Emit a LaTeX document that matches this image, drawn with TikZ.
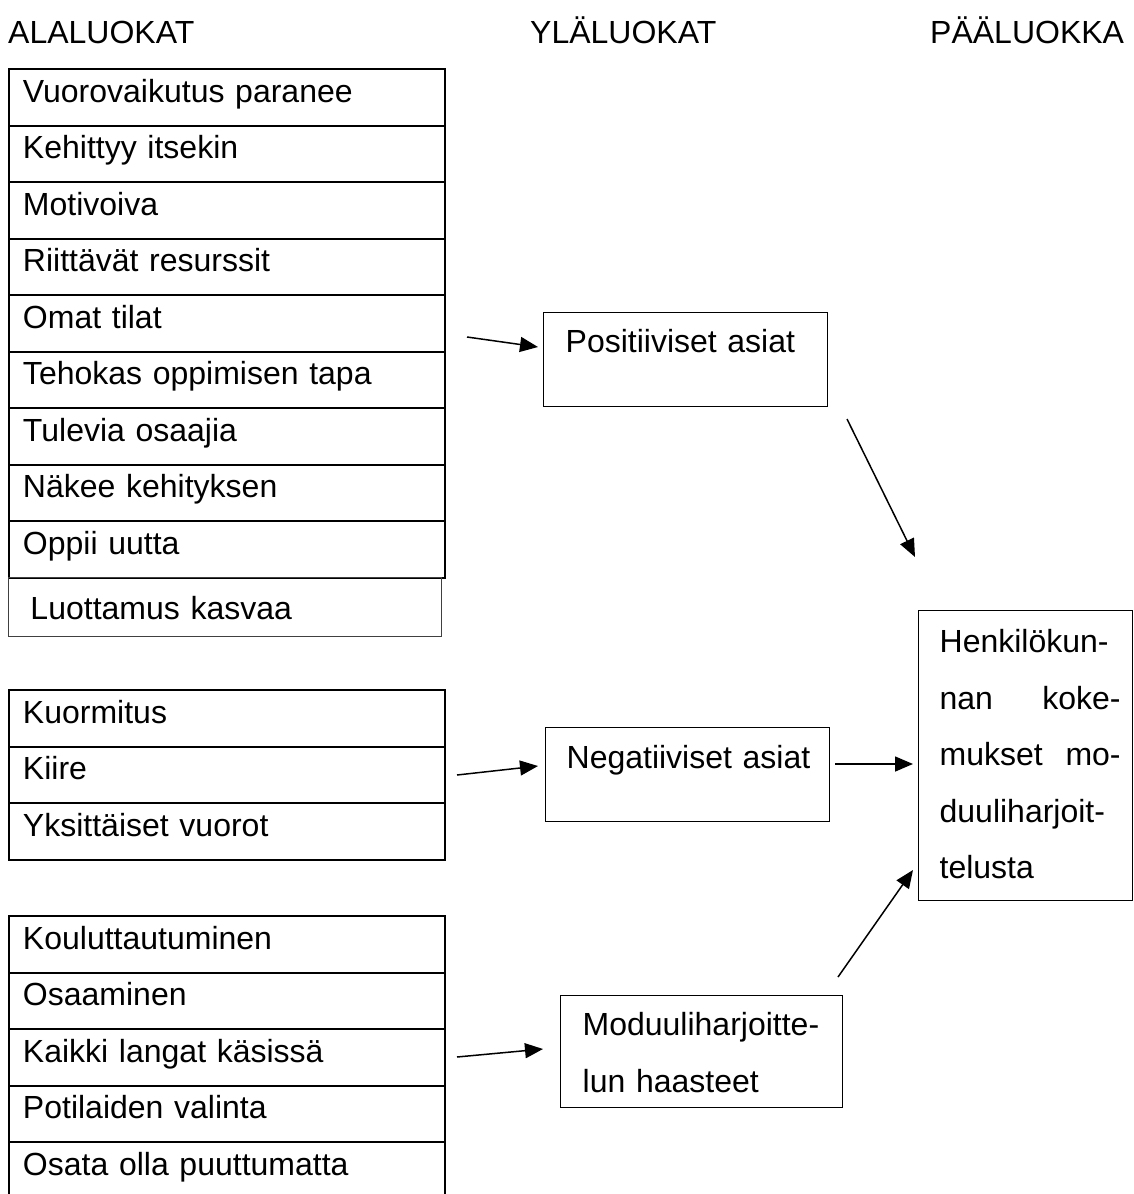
\documentclass[tikz,border=0pt]{standalone}
\usepackage{fontspec}
\setmainfont{Liberation Sans}
\usetikzlibrary{arrows.meta}
\newcommand{\mline}[1]{\makebox[181pt][l]{#1}}
\tikzset{
  every node/.style={font=\fontsize{32}{56.5}\selectfont},
  header/.style={anchor=base west, inner sep=0pt},
  rowbox/.style={draw, line width=2pt, anchor=north west, inner sep=0pt, inner xsep=14pt,
    text width=408pt, align=left, text height=33pt, text depth=23.5pt},
  lastbox/.style={draw=black!75, line width=1pt, anchor=north west, inner sep=0pt, inner xsep=22pt,
    text width=389pt, align=left, text height=42pt, text depth=17pt},
  midbox/.style={draw, line width=1.3pt, anchor=north west, inner sep=0pt, inner xsep=22pt,
    text width=240pt, align=left, text height=40pt},
  mainbox/.style={draw, line width=1.3pt, anchor=north west, inner sep=0pt, inner xsep=21pt,
    text width=172pt, align=left, text height=42pt, text depth=248pt},
  arr/.style={line width=1.5pt, -{Triangle[length=18pt,width=15pt]}}
}
\begin{document}
\begin{tikzpicture}[x=1pt,y=-1pt]
\clip (0,0) rectangle (1133,1194);
\fill[white] (0,0) rectangle (1133,1194);
% headers
\node[header] (h1) at (8,43) {ALALUOKAT};
\node[header] (h2) at (530,43) {YLÄLUOKAT};
\node[header] (h3) at (930,43) {PÄÄLUOKKA};
% group 1
\foreach \t [count=\i] in {Vuorovaikutus paranee, Kehittyy itsekin, Motivoiva, Riittävät resurssit, Omat tilat, Tehokas oppimisen tapa, Tulevia osaajia, Näkee kehityksen, Oppii uutta}
  \node[rowbox] (a\i) at (8,{68+(\i-1)*56.5}) {\mbox{\t}};
\node[lastbox] (a10) at (8,577) {Luottamus kasvaa};
% group 2
\foreach \t [count=\i] in {Kuormitus, Kiire, Yksittäiset vuorot}
  \node[rowbox] (b\i) at (8,{689+(\i-1)*56.5}) {\mbox{\t}};
% group 3
\foreach \t [count=\i] in {Kouluttautuminen, Osaaminen, Kaikki langat käsissä, Potilaiden valinta, Osata olla puuttumatta}
  \node[rowbox] (c\i) at (8,{915+(\i-1)*56.5}) {\mbox{\t}};
% middle boxes
\node[midbox, text depth=54pt] (pos) at (543,312) {\mbox{Positiiviset asiat}};
\node[midbox, inner xsep=21pt, text width=242pt, text height=41pt, text depth=53pt] (neg) at (545,727) {\mbox{Negatiiviset asiat}};
\node[midbox, text width=238pt, text depth=72pt] (haa) at (560,995) {\mbox{Moduuliharjoitte-}\\\mbox{lun haasteet}};
% main box
\node[mainbox] (main) at (918,610) {\mline{Henkilökun-}\\\mline{nan\hfill koke-}\\\mline{mukset\hfill mo-}\\\mline{duuliharjoit-}\\\mline{telusta}};
% arrow endpoints
\coordinate (a1s) at (467,337);  \coordinate (a1e) at (538,347);
\coordinate (a2s) at (847,419);  \coordinate (a2e) at (915,557);
\coordinate (a3s) at (457,775);  \coordinate (a3e) at (538,766);
\coordinate (a4s) at (835,764);  \coordinate (a4e) at (913,764);
\coordinate (a5s) at (457,1057); \coordinate (a5e) at (543,1049);
\coordinate (a6s) at (838,977);  \coordinate (a6e) at (913,870);
\draw[arr] (a1s) -- (a1e);
\draw[arr] (a2s) -- (a2e);
\draw[arr] (a3s) -- (a3e);
\draw[arr] (a4s) -- (a4e);
\draw[arr] (a5s) -- (a5e);
\draw[arr] (a6s) -- (a6e);
\end{tikzpicture}
\end{document}
